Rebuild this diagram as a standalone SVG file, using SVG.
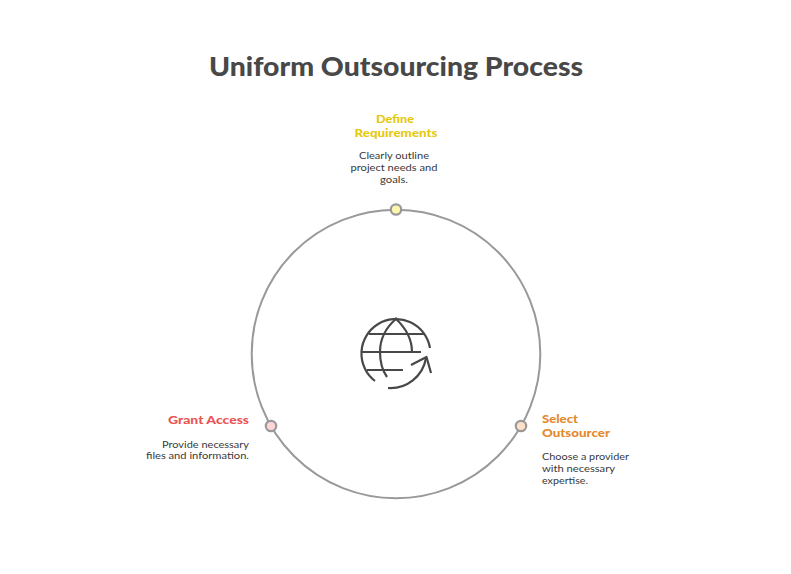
<svg xmlns="http://www.w3.org/2000/svg" width="791" height="574" viewBox="0 0 791 574">
<style>
text{font-family:"Lato","Noto Sans",sans-serif}
.t{font-size:27px;font-weight:900;fill:#484848}
.h{font-size:12px;font-weight:900}
.d{font-size:10px;fill:#383838}
.dot{stroke:#999;stroke-width:2.2}
.i{fill:none;stroke:#484848;stroke-width:2.2;stroke-linecap:butt;stroke-linejoin:round}
</style>
<rect width="791" height="574" fill="#fff"/>
<text class="t" x="209" y="76" textLength="374" lengthAdjust="spacingAndGlyphs">Uniform Outsourcing Process</text>
<g id="connectors"><circle cx="396" cy="354" r="144.3" fill="none" stroke="#999" stroke-width="2"/></g>
<g id="center-icon" class="i">
<path d="M375 381A34.500 34.500 0 1 1 430 348"/>
<path d="M388 388A36 36 0 0 0 426 358"/>
<path d="M411 365L426.500 357L431 373"/>
<path d="M369 334H424M361 352H421M367 370H403"/>
<path d="M397 318C385 328 380 340 380 352C380 362 382 370 387 377"/>
<path d="M395 318C406 328 412 340 412 352"/>
</g>
<g id="define-requirements">
<circle class="dot" cx="396" cy="209.500" r="5.200" fill="#fff6ad"/>
<text class="h" x="395" y="123" text-anchor="middle" fill="#e5c90f" textLength="38" lengthAdjust="spacingAndGlyphs">Define</text>
<text class="h" x="396" y="137" text-anchor="middle" fill="#e5c90f" textLength="83" lengthAdjust="spacingAndGlyphs">Requirements</text>
<text class="d" x="394" y="159" text-anchor="middle" textLength="70" lengthAdjust="spacingAndGlyphs">Clearly outline</text>
<text class="d" x="394" y="171" text-anchor="middle" textLength="87" lengthAdjust="spacingAndGlyphs">project needs and</text>
<text class="d" x="394" y="183" text-anchor="middle" textLength="28" lengthAdjust="spacingAndGlyphs">goals.</text>
</g>
<g id="select-outsourcer">
<circle class="dot" cx="521" cy="426" r="5.200" fill="#ffe0c8"/>
<text class="h" x="542" y="423" fill="#e58a2e" textLength="36" lengthAdjust="spacingAndGlyphs">Select</text>
<text class="h" x="542" y="437" fill="#e58a2e" textLength="68" lengthAdjust="spacingAndGlyphs">Outsourcer</text>
<text class="d" x="542" y="460" textLength="87" lengthAdjust="spacingAndGlyphs">Choose a provider</text>
<text class="d" x="542" y="472" textLength="73" lengthAdjust="spacingAndGlyphs">with necessary</text>
<text class="d" x="542" y="484" textLength="46" lengthAdjust="spacingAndGlyphs">expertise.</text>
</g>
<g id="grant-access">
<circle class="dot" cx="271" cy="426" r="5.200" fill="#ffd6d6"/>
<text class="h" x="249" y="424" text-anchor="end" fill="#ea5555" textLength="81" lengthAdjust="spacingAndGlyphs">Grant Access</text>
<text class="d" x="249" y="448" text-anchor="end" textLength="87" lengthAdjust="spacingAndGlyphs">Provide necessary</text>
<text class="d" x="249" y="459" text-anchor="end" textLength="103" lengthAdjust="spacingAndGlyphs">files and information.</text>
</g>
</svg>
